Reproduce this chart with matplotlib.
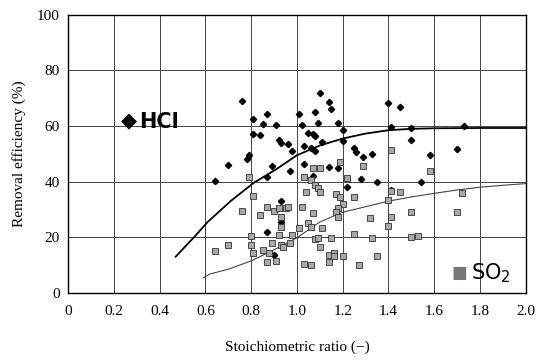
import numpy as np
import matplotlib.pyplot as plt

# HCl measurements (stoichiometric ratio, removal %)
hcl_x = [0.64, 0.70, 0.76, 0.81, 0.87, 0.85, 0.91, 0.81, 0.84, 0.92, 0.93, 0.96,
         0.98, 0.79, 0.78, 0.89, 0.87, 0.97, 0.93, 0.93, 0.87, 0.90, 1.10, 1.14,
         1.15, 1.01, 1.08, 1.02, 1.09, 1.18, 1.20, 1.05, 1.07, 1.08, 1.20, 1.11,
         1.03, 1.06, 1.08, 1.25, 1.26, 1.29, 1.33, 1.40, 1.45, 1.41, 1.50, 1.73,
         1.50, 1.58, 1.70, 1.03, 1.14, 1.18, 1.07, 1.28, 1.22, 1.35, 1.54, 1.41]
hcl_y = [40.3, 46.0, 69.0, 62.5, 64.4, 60.8, 60.4, 57.2, 56.8, 55.0, 54.0, 53.6,
         51.0, 49.6, 48.0, 45.5, 41.6, 44.0, 33.0, 25.5, 22.0, 13.5, 72.0, 68.7,
         66.0, 64.4, 65.0, 60.4, 61.0, 61.0, 58.6, 57.5, 57.0, 56.5, 54.7, 54.4,
         53.0, 52.0, 51.0, 52.0, 50.5, 49.0, 50.0, 68.3, 67.0, 59.8, 59.4, 60.0,
         55.0, 49.6, 51.7, 46.4, 45.3, 45.0, 42.0, 41.0, 38.0, 40.0, 40.0, 37.0]

# SO2 measurements
so2_x = [0.64, 0.70, 0.76, 0.79, 0.80, 0.80, 0.81, 0.81, 0.84, 0.85, 0.87, 0.87,
         0.88, 0.89, 0.90, 0.91, 0.92, 0.92, 0.93, 0.93, 0.93, 0.95, 0.96, 0.97,
         0.98, 0.94, 1.01, 1.03, 1.06, 1.07, 1.10, 1.19, 1.29, 1.08, 1.09, 1.10,
         1.04, 1.22, 1.17, 1.19, 1.25, 1.20, 1.02, 1.18, 1.17, 1.18, 1.07, 1.32,
         1.05, 1.06, 1.11, 1.08, 1.09, 1.10, 1.15, 1.14, 1.16, 1.03, 1.06, 1.14,
         1.16, 1.20, 1.27, 1.35, 1.25, 1.33, 1.41, 1.40, 1.41, 1.45, 1.40, 1.41,
         1.50, 1.50, 1.53, 1.58, 1.70, 1.72]
so2_y = [15.0, 17.3, 29.5, 41.5, 20.5, 17.3, 14.5, 35.0, 28.0, 15.5, 31.0, 11.2,
         14.5, 18.0, 29.5, 11.5, 20.9, 30.6, 27.3, 23.7, 17.3, 30.6, 31.0, 18.0,
         20.9, 16.5, 23.4, 41.7, 40.6, 45.0, 45.0, 47.0, 45.7, 38.8, 37.8, 36.3,
         36.3, 41.4, 35.6, 34.5, 34.5, 32.0, 31.0, 30.6, 29.0, 27.3, 28.8, 27.0,
         25.0, 23.7, 23.4, 19.4, 19.8, 16.5, 19.8, 13.7, 14.4, 10.4, 10.0, 11.0,
         13.3, 13.3, 10.0, 13.3, 21.0, 19.8, 27.4, 24.0, 36.7, 36.3, 33.5, 51.5,
         29.0, 20.0, 20.5, 44.0, 29.0, 36.0]

# fitted trend curves
hcl_fit_x = [0.47, 0.55, 0.61, 0.71, 0.81, 0.91, 1.0, 1.1, 1.2, 1.3, 1.4, 1.5, 1.6, 1.8, 2.0]
hcl_fit_y = [13.0, 20.0, 25.5, 33.0, 39.5, 44.5, 49.5, 53.0, 55.5, 57.3, 58.5, 59.0, 59.2, 59.3, 59.3]
so2_fit_x = [0.59, 0.62, 0.7, 0.8, 0.9, 1.0, 1.1, 1.2, 1.3, 1.4, 1.5, 1.6, 1.7, 1.8, 1.9, 2.0]
so2_fit_y = [5.4, 6.8, 8.5, 11.5, 15.5, 19.8, 25.5, 29.0, 31.0, 33.0, 34.5, 35.8, 37.0, 38.0, 38.7, 39.3]

x_ticks = [0, 0.2, 0.4, 0.6, 0.8, 1.0, 1.2, 1.4, 1.6, 1.8, 2.0]
x_labels = ["0", "0.2", "0.4", "0.6", "0.8", "1.0", "1.2", "1.4", "1.6", "1.8", "2.0"]
y_ticks = [0, 20, 40, 60, 80, 100]

plt.rcParams['font.family'] = ['Liberation Serif', 'DejaVu Serif']

fig = plt.figure(figsize=(5.36, 3.62), dpi=100)
ax = fig.add_axes([0.127, 0.191, 0.854, 0.768])

ax.plot(hcl_fit_x, hcl_fit_y, color="black", lw=1.3, zorder=3)
ax.plot(so2_fit_x, so2_fit_y, color="#444444", lw=0.8, zorder=3)
ax.plot(hcl_x, hcl_y, "D", color="black", ms=3.2, zorder=4)
ax.plot(so2_x, so2_y, "s", mfc="#a8a8a8", mec="#333333", mew=0.6, ms=3.8, zorder=4)

ax.set_xlim(0, 2.0)
ax.set_ylim(0, 100)
ax.set_xticks(x_ticks)
ax.set_xticklabels(x_labels)
ax.set_yticks(y_ticks)
ax.tick_params(length=0, labelsize=11)
ax.tick_params(axis="x", pad=9)
ax.tick_params(axis="y", pad=6)
ax.grid(True, color="#444444", lw=0.7)
for s in ax.spines.values():
    s.set_linewidth(1.0)

ax.set_xlabel("Stoichiometric ratio (\u2212)", fontsize=11, labelpad=16)
ax.set_ylabel("Removal efficiency (%)", fontsize=11, labelpad=8)

sans = ['Liberation Sans Narrow', 'DejaVu Sans']
ax.text(0.30, 61.5, "\u25c6", fontsize=15, ha="right", va="center", family=['DejaVu Sans'])
ax.text(0.31, 61.5, "HCl", fontsize=15, fontweight="bold", ha="left", va="center", family=sans)
ax.text(1.745, 7.0, "\u25a0", fontsize=12, color="#777777", ha="right", va="center",
        family=['DejaVu Sans'])
ax.text(1.76, 7.0, "SO$_2$", fontsize=15, ha="left", va="center", family=sans)

fig.savefig("out.png", dpi=100)
